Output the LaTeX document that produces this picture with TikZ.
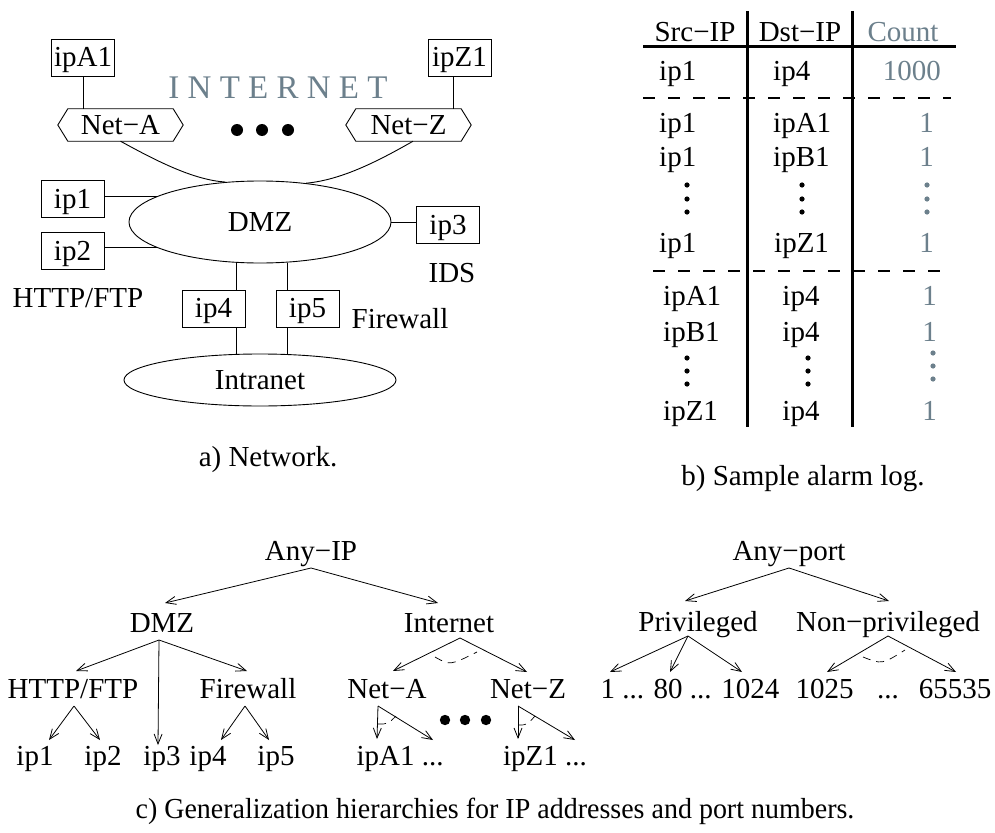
\documentclass[tikz,border=0pt]{standalone}
\usepackage{fontspec}
\usepackage{graphicx}
\setmainfont{Liberation Serif}
\usetikzlibrary{arrows.meta,shapes.geometric}
\definecolor{slate}{RGB}{108,128,140}

\begin{document}
\begin{tikzpicture}[x=1pt,y=-1pt,
  every node/.style={font=\fontsize{29}{34}\selectfont, inner sep=0pt},
  ipbox/.style={draw, line width=0.9pt, minimum width=63pt, minimum height=37pt,
                text height=20pt, text depth=2pt},
  netbox/.style={minimum width=105pt, minimum height=32pt},
  cloudnode/.style={draw, ellipse, line width=0.9pt, inner sep=0pt},
  lbl/.style={anchor=base},
  wire/.style={line width=0.9pt},
  arr/.style={line width=0.8pt, -{Straight Barb[length=10pt,width=8pt]}},
  tablerule/.style={line width=3pt},
  dashrule/.style={line width=1.3pt, dash pattern=on 12pt off 13pt},
  arcdash/.style={line width=0.7pt, dash pattern=on 8pt off 6pt},
  gray/.style={text=slate}
]
\useasboundingbox (0,0) rectangle (995,832);

% ---------------- a) network ----------------
\node[ipbox] (ipA1) at (83,57.5) {ipA1};
\node[ipbox] (ipZ1) at (459.5,57.5) {ipZ1};
\node[lbl, text=slate, font=\fontsize{33}{38}\selectfont] (inet) at (278,99) {I N T E R N E T};

\node[netbox] (netA) at (120.5,125) {Net−A};
\node[netbox] (netZ) at (408.5,125) {Net−Z};
\draw[wire] (netA.north west) -- (netA.north east) -- ([xshift=10pt]netA.east)
  -- (netA.south east) -- (netA.south west) -- ([xshift=-10pt]netA.west) -- cycle;
\draw[wire] (netZ.north west) -- (netZ.north east) -- ([xshift=10pt]netZ.east)
  -- (netZ.south east) -- (netZ.south west) -- ([xshift=-10pt]netZ.west) -- cycle;

\draw[wire] (ipA1.south) -- (ipA1.south |- netA.north);
\coordinate (zdrop) at ([xshift=-6.5pt]ipZ1.south);
\draw[wire] (zdrop) -- (zdrop |- netZ.north);

\fill (237,130) circle (6pt) (262,130) circle (6pt) (288,130) circle (6pt);

\node[cloudnode, minimum width=262pt, minimum height=82pt] (dmz) at (260,222) {DMZ};
\draw[wire] (netA.south) .. controls (160,163) and (195,180) .. (dmz.131);
\draw[wire] ([xshift=4.5pt]netZ.south) .. controls (375,163) and (340,180) .. (dmz.40);

\node[ipbox] (ipone) at (72.5,199) {ip1};
\node[ipbox] (iptwo) at (72.5,251) {ip2};
\node[ipbox] (ipthree) at (448,225) {ip3};
\draw[wire] (ipone.east |- dmz.166) -- (dmz.166);
\draw[wire] (iptwo.east |- dmz.194) -- (dmz.194);
\draw[wire] (dmz.east) -- (dmz.east -| ipthree.west);

\node[ipbox] (ipfour) at (213.5,308.5) {ip4};
\node[ipbox] (ipfive) at (307.5,308.5) {ip5};
\node[cloudnode, minimum width=272pt, minimum height=52pt] (intra) at (260,380) {Intranet};

\coordinate (w4a) at ([xshift=-9pt]ipfour.north east);
\coordinate (w4b) at ([xshift=-9pt]ipfour.south east);
\coordinate (w5a) at ([xshift=12pt]ipfive.north west);
\coordinate (w5b) at ([xshift=12pt]ipfive.south west);
\draw[wire] (w4a) -- (w4a |- dmz.south);
\draw[wire] (w4b) -- (w4b |- intra.north);
\draw[wire] (w5a) -- (w5a |- dmz.south);
\draw[wire] (w5b) -- (w5b |- intra.north);

\node[lbl] (ids) at (452,282) {IDS};
\node[lbl] (web) at (78,307) {HTTP/FTP};
\node[lbl] (fwl) at (400,328) {Firewall};
\node[lbl] (capa) at (268,466) {a) Network.};

% ---------------- b) alarm log ----------------
\draw[tablerule] (747,11) -- (747,427);
\draw[tablerule] (852,11) -- (852,427);
\draw[tablerule] (643,47) -- (956,47);
\draw[dashrule] (643,98) -- (951,98);
\draw[dashrule] (653,271) -- (947,271);

\node[lbl] (hsrc) at (695,42) {Src−IP};
\node[lbl] (hdst) at (800,42) {Dst−IP};
\node[lbl, gray] (hcnt) at (903,42) {Count};

\node[lbl, anchor=base west] (s1) at (659,81) {ip1};
\node[lbl, anchor=base west] (d1) at (773,81) {ip4};
\node[lbl, anchor=base east, gray] (c1) at (941,81) {1000};

\node[lbl, anchor=base west] (s2) at (659,132) {ip1};
\node[lbl, anchor=base west] (d2) at (773,132) {ipA1};
\node[lbl, anchor=base east, gray] (c2) at (934,132) {1};
\node[lbl, anchor=base west] (s3) at (659,166) {ip1};
\node[lbl, anchor=base west] (d3) at (773,166) {ipB1};
\node[lbl, anchor=base east, gray] (c3) at (934,166) {1};
\fill (687,185) circle (2.6pt) (687,199) circle (2.6pt) (687,212) circle (2.6pt);
\fill (802,185) circle (2.6pt) (802,199) circle (2.6pt) (802,212) circle (2.6pt);
\fill[slate] (927,185) circle (2.6pt) (927,199) circle (2.6pt) (927,212) circle (2.6pt);
\node[lbl, anchor=base west] (s4) at (659,252) {ip1};
\node[lbl, anchor=base west] (d4) at (774,252) {ipZ1};
\node[lbl, anchor=base east, gray] (c4) at (934,252) {1};

\node[lbl, anchor=base west] (s5) at (663,305) {ipA1};
\node[lbl] (d5) at (801,305) {ip4};
\node[lbl, anchor=base east, gray] (c5) at (937,305) {1};
\node[lbl, anchor=base west] (s6) at (663,341) {ipB1};
\node[lbl] (d6) at (801,341) {ip4};
\node[lbl, anchor=base east, gray] (c6) at (937,341) {1};
\fill (687,358) circle (2.6pt) (687,371) circle (2.6pt) (687,384) circle (2.6pt);
\fill (808,358) circle (2.6pt) (808,371) circle (2.6pt) (808,384) circle (2.6pt);
\fill[slate] (933,353) circle (2.6pt) (933,366) circle (2.6pt) (933,379) circle (2.6pt);
\node[lbl, anchor=base west] (s7) at (663,420) {ipZ1};
\node[lbl] (d7) at (801,420) {ip4};
\node[lbl, anchor=base east, gray] (c7) at (937,420) {1};

\node[lbl] (capb) at (803,485) {b) Sample alarm log.};

% ---------------- c) hierarchies ----------------
\node[lbl] (anyip) at (311,560) {Any−IP};
\node[lbl] (tdmz) at (162,632) {DMZ};
\node[lbl] (tinet) at (449,632) {Internet};
\node[lbl] (thttp) at (73,698) {HTTP/FTP};
\node[lbl] (tfw) at (248,698) {Firewall};
\node[lbl] (tneta) at (387,698) {Net−A};
\node[lbl] (tnetz) at (528,698) {Net−Z};
\node[lbl] (tip1) at (35,765) {ip1};
\node[lbl] (tip2) at (103,765) {ip2};
\node[lbl] (tip3) at (162,765) {ip3};
\node[lbl] (tip4) at (208,765) {ip4};
\node[lbl] (tip5) at (276,765) {ip5};
\node[lbl] (tipa) at (400,765) {ipA1 ...};
\node[lbl] (tipz) at (545,765) {ipZ1 ...};
\fill (445,720) circle (5.2pt) (465,720) circle (5.2pt) (486,720) circle (5.2pt);

\draw[arr] ([yshift=-8pt]anyip.base) -- ([xshift=3pt,yshift=29pt]tdmz.base);
\draw[arr] ([yshift=-8pt]anyip.base) -- ([xshift=-11pt,yshift=29pt]tinet.base);
\draw[arr] ([xshift=-3pt,yshift=-8pt]tdmz.base) -- ([xshift=3pt,yshift=27pt]thttp.base);
\draw[arr] ([xshift=-3pt,yshift=-8pt]tdmz.base) -- ([xshift=-4pt,yshift=20pt]tip3.base);
\draw[arr] ([xshift=-3pt,yshift=-8pt]tdmz.base) -- ([xshift=-1pt,yshift=27pt]tfw.base);
\draw[arr] ([xshift=1pt,yshift=-8pt]thttp.base) -- ([xshift=14pt,yshift=25pt]tip1.base);
\draw[arr] ([xshift=1pt,yshift=-8pt]thttp.base) -- ([xshift=-3pt,yshift=25pt]tip2.base);
\draw[arr] ([xshift=-3pt,yshift=-8pt]tfw.base) -- ([xshift=13pt,yshift=25pt]tip4.base);
\draw[arr] ([xshift=-3pt,yshift=-8pt]tfw.base) -- ([xshift=-7pt,yshift=25pt]tip5.base);
\draw[arr] ([xshift=11pt,yshift=-6pt]tinet.base) -- ([xshift=6pt,yshift=27pt]tneta.base);
\draw[arr] ([xshift=11pt,yshift=-6pt]tinet.base) -- ([xshift=-1pt,yshift=26pt]tnetz.base);
\draw[arcdash] (435,657) .. controls (450,665.5) .. (477,652);
\draw[arr] ([xshift=-9pt,yshift=-8pt]tneta.base) -- ([xshift=-23pt,yshift=26pt]tipa.base);
\draw[arr] ([xshift=-9pt,yshift=-8pt]tneta.base) -- ([xshift=33pt,yshift=25pt]tipa.base);
\draw[arcdash] (378,724) .. controls (388,724) .. (396,716);
\draw[arr] ([xshift=-10pt,yshift=-8pt]tnetz.base) -- ([xshift=-27pt,yshift=26pt]tipz.base);
\draw[arr] ([xshift=-10pt,yshift=-8pt]tnetz.base) -- ([xshift=30pt,yshift=25pt]tipz.base);
\draw[arcdash] (518,725) .. controls (527,725) .. (535,716);

\node[lbl] (anyport) at (789,560) {Any−port};
\node[lbl] (tpriv) at (698,631) {Privileged};
\node[lbl] (tnonp) at (888,631) {Non−privileged};
\node[lbl] (tlow) at (690,698) {1 ... 80 ... 1024};
\node[lbl] (thi1) at (824.5,698) {1025};
\node[lbl] (thi2) at (888,698) {...};
\node[lbl] (thi3) at (955,698) {65535};

\draw[arr] ([yshift=-8pt]anyport.base) -- ([xshift=-13pt,yshift=30pt]tpriv.base);
\draw[arr] ([yshift=-8pt]anyport.base) -- ([xshift=1pt,yshift=30pt]tnonp.base);
\draw[arr] ([xshift=-10pt,yshift=-5pt]tpriv.base) -- ([xshift=-80pt,yshift=26pt]tlow.base);
\draw[arr] ([xshift=-10pt,yshift=-5pt]tpriv.base) -- ([xshift=-20pt,yshift=26pt]tlow.base);
\draw[arr] ([xshift=-10pt,yshift=-5pt]tpriv.base) -- ([xshift=52pt,yshift=26pt]tlow.base);
\draw[arr] ([yshift=-5pt]tnonp.base) -- ([xshift=2.5pt,yshift=26pt]thi1.base);
\draw[arr] ([yshift=-5pt]tnonp.base) -- ([xshift=1pt,yshift=26pt]thi3.base);
\draw[arcdash] (863,657) .. controls (882,664.5) .. (905,650);

\node[lbl] (capc) at (495,818) {\scalebox{0.965}[1]{c) Generalization hierarchies for IP addresses and port numbers.}};
\end{tikzpicture}
\end{document}
